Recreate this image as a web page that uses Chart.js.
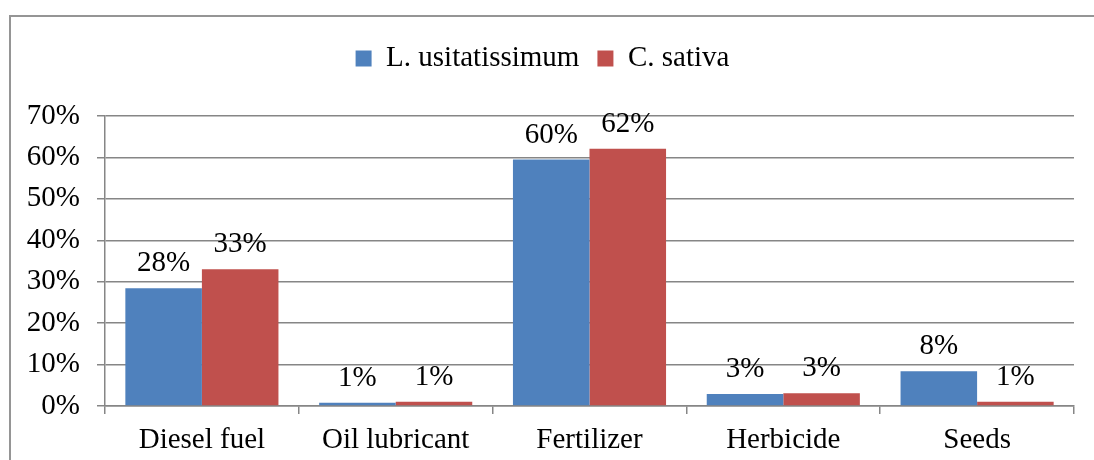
<!DOCTYPE html>
<html lang="en">

<head>
    <meta charset="UTF-8">
    <title>energy inputs</title>
    <script src="https://cdn.jsdelivr.net/npm/chart.js"></script>
    <style>
        body { margin: 0; background: #fff; overflow: hidden; }
        #box {
            position: absolute; left: 9px; top: 15px;
            width: 1100px; height: 460px;
            border: 2px solid #959595;
        }
    </style>
</head>

<body>
    <div id="box">
        <canvas id="myChart" width="1083" height="443"></canvas>
    </div>
    <script>
        const categories = ['Diesel fuel', 'Oil lubricant', 'Fertilizer', 'Herbicide', 'Seeds'];
        const linum = [28.4, 0.8, 59.5, 2.9, 8.4];   // L. usitatissimum
        const sativa = [33.0, 1.0, 62.1, 3.1, 1.0];  // C. sativa
        const yTicks = [0, 10, 20, 30, 40, 50, 60, 70];

        const FONT = { family: '"Liberation Serif", "Times New Roman", serif', size: 29 };

        // value labels above each bar
        const barLabels = {
            id: 'barLabels',
            afterDatasetsDraw(chart) {
                const c = chart.ctx;
                c.save();
                c.font = FONT.size + 'px ' + FONT.family;
                c.fillStyle = '#000';
                c.textAlign = 'center';
                c.textBaseline = 'alphabetic';
                chart.data.datasets.forEach((ds, i) => {
                    chart.getDatasetMeta(i).data.forEach((bar, j) => {
                        c.fillText(Math.round(ds.data[j]) + '%', bar.x, bar.y - 17);
                    });
                });
                c.restore();
            }
        };

        // extra room under the legend
        const legendGap = {
            id: 'legendGap',
            beforeInit(chart) {
                const fit = chart.legend.fit;
                chart.legend.fit = function () {
                    fit.bind(chart.legend)();
                    this.height += 33;
                };
            }
        };

        let ctx = document.getElementById('myChart');
        let myChart = new Chart(ctx, {
            type: 'bar',
            data: {
                labels: categories,
                datasets: [
                    { label: 'L. usitatissimum', data: linum, backgroundColor: '#4F81BD' },
                    { label: 'C. sativa', data: sativa, backgroundColor: '#C0504D' }
                ]
            },
            options: {
                responsive: false,
                animation: false,
                layout: { padding: { top: 9, right: 20, left: 0, bottom: 0 } },
                datasets: { bar: { categoryPercentage: 0.79, barPercentage: 1.0 } },
                plugins: {
                    tooltip: { enabled: false },
                    legend: {
                        position: 'top',
                        labels: {
                            color: '#000',
                            font: FONT,
                            boxWidth: 16,
                            boxHeight: 16,
                            padding: 18
                        }
                    }
                },
                scales: {
                    x: {
                        grid: { drawOnChartArea: false, drawTicks: true, tickLength: 8, color: '#868686', lineWidth: 1.5 },
                        border: { color: '#868686', width: 1.5 },
                        ticks: { color: '#000', font: FONT, padding: 9, maxRotation: 0 },
                        afterFit(s) { s.height = 54; }
                    },
                    y: {
                        min: 0,
                        max: 70,
                        afterBuildTicks(s) { s.ticks = yTicks.map(v => ({ value: v })); },
                        grid: { color: '#868686', lineWidth: 1.5, tickLength: 8 },
                        border: { color: '#868686', width: 1.5 },
                        ticks: { color: '#000', font: FONT, padding: 17, callback: v => v + '%' },
                        afterFit(s) { s.width = 94; }
                    }
                }
            },
            plugins: [barLabels, legendGap]
        });
    </script>
</body>

</html>
